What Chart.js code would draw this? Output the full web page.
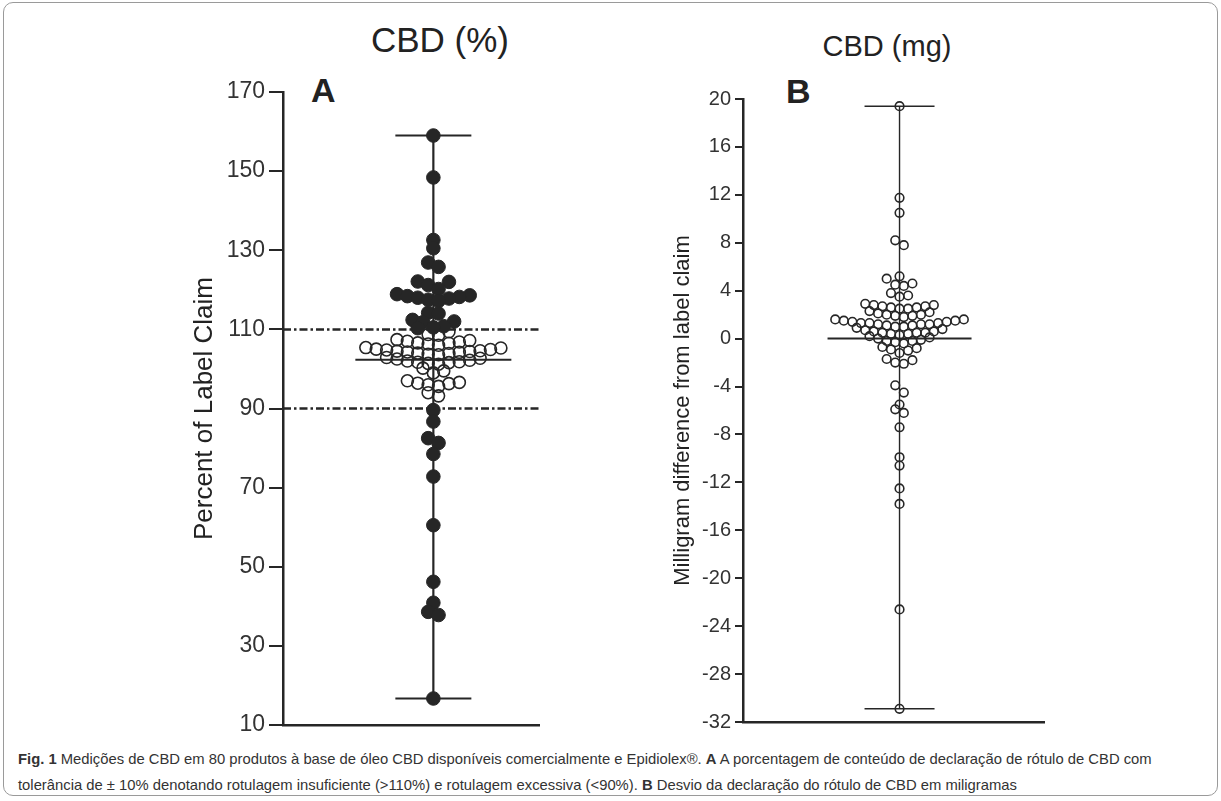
<!DOCTYPE html>
<html>
<head>
<meta charset="utf-8">
<script src="https://cdn.jsdelivr.net/npm/chart.js@4.4.1/dist/chart.umd.min.js"></script>
<style>
  body { margin: 0; background: #fff; width: 1221px; height: 801px; position: relative; overflow: hidden;
         font-family: "Liberation Sans", Arial, sans-serif; color: #222; }
  .frame { position: absolute; left: 3px; top: 2px; width: 1213px; height: 792px; border: 1px solid #9a9a9a; border-radius: 10px; }
  canvas { position: absolute; }
  .titulo { position: absolute; width: 300px; text-align: center; color: #222; white-space: nowrap; }
  .letra { position: absolute; font-size: 34px; font-weight: bold; color: #222; }
  .leyenda { position: absolute; left: 18px; font-size: 14.8px; color: #333; white-space: nowrap; }
</style>
</head>
<body>
<div class="frame"></div>
<div class="titulo" style="left:290px; top:20px; font-size:35px;">CBD (%)</div>
<div class="titulo" style="left:737px; top:30px; font-size:29px;">CBD (mg)</div>
<div class="letra" style="left:311px; top:71px;">A</div>
<div class="letra" style="left:786px; top:72px;">B</div>
<canvas id="graficoA" width="362" height="685" style="left:185px; top:60px;"></canvas>
<canvas id="graficoB" width="384" height="685" style="left:666px; top:60px;"></canvas>
<div class="leyenda" style="top:751px;"><b>Fig. 1</b> Medições de CBD em 80 produtos à base de óleo CBD disponíveis comercialmente e Epidiolex®. <b>A</b> A porcentagem de conteúdo de declaração de rótulo de CBD com</div>
<div class="leyenda" style="top:777px;">tolerância de ± 10% denotando rotulagem insuficiente (&gt;110%) e rotulagem excessiva (&lt;90%). <b>B</b> Desvio da declaração do rótulo de CBD em miligramas</div>

<script>
// Panel A: percent of label claim (one value per product)
const porcentajeCBD = [
  159, 148.4, 132.6, 130.5, 126.9, 125.8, 122.1, 122, 121.2, 120.2,
  118.9, 118.6, 118.4, 118.2, 118, 117.8, 117.5, 117.2,
  114.2, 114, 112.4, 112, 111.8, 110.8, 110.5, 110.3,
  109.4, 108.7, 108.5,
  107.4, 107.2, 107.0, 106.8, 106.6, 106.5, 106.3, 106.0,
  105.4, 105.3, 105.0, 104.9, 104.8, 104.6, 104.5, 104.4, 104.3, 104.2, 104.0, 103.9, 103.7, 103.6,
  102.9, 102.7, 102.5, 102.2, 102.0, 101.8, 101.7, 101.6, 101.4, 101.2,
  100.2, 99.5, 99.0,
  97.0, 96.6, 96.4, 96.3, 96.0, 95.6,
  94.0, 93.2,
  89.6, 86.7, 82.5, 81.3, 78.5, 72.8, 60.5, 46.2, 40.9, 38.6, 37.8, 16.7
];
// Panel B: milligram difference from label claim
const diferenciaMg = [
  19.4, 11.75, 10.5, 8.2, 7.8, 5.2, 5.0,
  4.6, 4.5, 4.4, 3.8, 3.6, 3.5,
  2.9, 2.8, 2.8, 2.7, 2.7, 2.6, 2.6, 2.5, 2.5,
  2.3, 2.2, 2.1, 2.0, 2.0, 1.9, 1.9, 1.8,
  1.6, 1.6, 1.5, 1.5, 1.4, 1.4, 1.3, 1.3, 1.3, 1.2, 1.2, 1.2, 1.1, 1.1, 1.0, 1.0,
  0.9, 0.8, 0.7, 0.6, 0.6, 0.5, 0.5, 0.5, 0.4, 0.4, 0.3,
  0.2, 0.1, 0.0, -0.1, -0.2, -0.2, -0.3, -0.4,
  -0.7, -0.8, -0.9, -1.0, -1.2,
  -1.7, -1.8, -2.0, -2.1,
  -3.9, -4.5, -5.5, -5.9, -6.2, -7.4, -9.9, -10.6, -12.5, -13.8, -22.6, -30.9
];

const limitesA = [110, 90];      // tolerance band (dash-dot lines)
const centroA = 102.3;           // centre line
const centroB = 0;

const ticksA = [10, 30, 50, 70, 90, 110, 130, 150, 170];
const ticksB = [-32, -28, -24, -20, -16, -12, -8, -4, 0, 4, 8, 12, 16, 20];

const tinta = "#262626";

// scatter dot plot layout: values grouped in rows, spread centre-out (x in px)
function filas(valores, altoFila, paso) {
  const orden = valores.map((v, i) => i).sort((a, b) => valores[a] - valores[b]);
  const xs = new Array(valores.length);
  let k = 0;
  while (k < orden.length) {
    const inicio = valores[orden[k]];
    const fila = [];
    while (k < orden.length && valores[orden[k]] - inicio < altoFila - 1e-9) fila.push(orden[k++]);
    const n = fila.length;
    const huecos = [];
    for (let j = 0; j < n; j++) huecos.push((j - (n - 1) / 2) * paso);
    huecos.sort((a, b) => Math.abs(a) - Math.abs(b) || b - a);
    fila.forEach((idx, j) => { xs[idx] = huecos[j]; });
  }
  return xs;
}

// reference lines, whisker and centre line, drawn under the points
const lineasExtra = {
  id: "lineasExtra",
  beforeDatasetsDraw(chart, args, opts) {
    const { ctx, chartArea, scales: { x, y } } = chart;
    ctx.save();
    ctx.strokeStyle = tinta;
    (opts.limites || []).forEach(v => {
      const py = y.getPixelForValue(v);
      ctx.lineWidth = 2.5;
      ctx.setLineDash([8, 3, 2.5, 3]);
      ctx.beginPath(); ctx.moveTo(chartArea.left, py); ctx.lineTo(chartArea.right, py); ctx.stroke();
    });
    ctx.setLineDash([]);
    const px = x.getPixelForValue(0);
    const yMin = y.getPixelForValue(opts.min), yMax = y.getPixelForValue(opts.max);
    ctx.lineWidth = opts.grosor;
    ctx.beginPath(); ctx.moveTo(px, yMin); ctx.lineTo(px, yMax); ctx.stroke();
    [yMin, yMax].forEach(py => {
      ctx.beginPath(); ctx.moveTo(px - opts.tapa, py); ctx.lineTo(px + opts.tapa, py); ctx.stroke();
    });
    const pc = y.getPixelForValue(opts.centro);
    ctx.lineWidth = 2;
    ctx.beginPath(); ctx.moveTo(px - opts.media, pc); ctx.lineTo(px + opts.media, pc); ctx.stroke();
    ctx.restore();
  }
};

function crearGrafico(id, cfg) {
  return new Chart(document.getElementById(id), {
    type: "scatter",
    data: { datasets: cfg.datasets },
    options: {
      responsive: false,
      animation: false,
      layout: { padding: cfg.padding },
      plugins: { legend: { display: false }, tooltip: { enabled: false }, lineasExtra: cfg.lineas },
      scales: {
        x: {
          type: "linear", min: cfg.xMin, max: cfg.xMax,
          ticks: { display: false },
          grid: { display: false, drawTicks: false },
          border: { display: true, color: tinta, width: 2.5 },
          afterFit: s => { s.height = 0; }
        },
        y: {
          type: "linear", min: cfg.ticks[0], max: cfg.ticks[cfg.ticks.length - 1],
          afterBuildTicks: s => { s.ticks = cfg.ticks.map(v => ({ value: v })); },
          afterFit: s => { s.width = cfg.anchoEje; },
          ticks: { color: "#333", font: { family: "Liberation Sans", size: cfg.tamTick }, padding: 4 },
          grid: { drawOnChartArea: false, drawTicks: true, tickLength: cfg.largoTick, color: tinta, lineWidth: 2 },
          border: { display: true, color: tinta, width: 2.5 },
          title: { display: true, text: cfg.tituloY, color: "#222", padding: { top: 4, bottom: 0 },
                   font: { family: "Liberation Sans", size: cfg.tamTitulo } }
        }
      }
    },
    plugins: [lineasExtra]
  });
}

const fueraDeRango = v => v > limitesA[0] || v < limitesA[1];

const xsA = filas(porcentajeCBD, 2, 10.5);
const puntosA = porcentajeCBD.map((v, i) => ({ x: xsA[i], y: v }));
const xsB = filas(diferenciaMg, 0.7, 8.6);
const puntosB = diferenciaMg.map((v, i) => ({ x: xsB[i], y: v }));

crearGrafico("graficoA", {
  datasets: [
    { data: puntosA.filter(p => fueraDeRango(p.y)), pointRadius: 6.8, pointBackgroundColor: tinta, pointBorderColor: tinta, pointBorderWidth: 1 },
    { data: puntosA.filter(p => !fueraDeRango(p.y)), pointRadius: 6, pointBackgroundColor: "rgba(0,0,0,0)", pointBorderColor: tinta, pointBorderWidth: 1.6 }
  ],
  padding: { top: 32, right: 5, bottom: 20, left: 0 },
  xMin: -152, xMax: 107,
  ticks: ticksA, anchoEje: 98, tamTick: 23, largoTick: 14, tamTitulo: 26,
  tituloY: "Percent of Label Claim",
  lineas: { limites: limitesA, min: Math.min(...porcentajeCBD), max: Math.max(...porcentajeCBD),
            centro: centroA, tapa: 38, media: 78, grosor: 2.2 }
});

crearGrafico("graficoB", {
  datasets: [
    { data: puntosB, pointRadius: 4.3, pointBackgroundColor: "rgba(0,0,0,0)", pointBorderColor: tinta, pointBorderWidth: 1.6 }
  ],
  padding: { top: 39, right: 5, bottom: 23, left: 0 },
  xMin: -157, xMax: 145,
  ticks: ticksB, anchoEje: 77, tamTick: 20, largoTick: 8, tamTitulo: 22,
  tituloY: "Milligram difference from label claim",
  lineas: { limites: [], min: Math.min(...diferenciaMg), max: Math.max(...diferenciaMg),
            centro: centroB, tapa: 35, media: 72, grosor: 1.4 }
});
</script>
</body>
</html>
